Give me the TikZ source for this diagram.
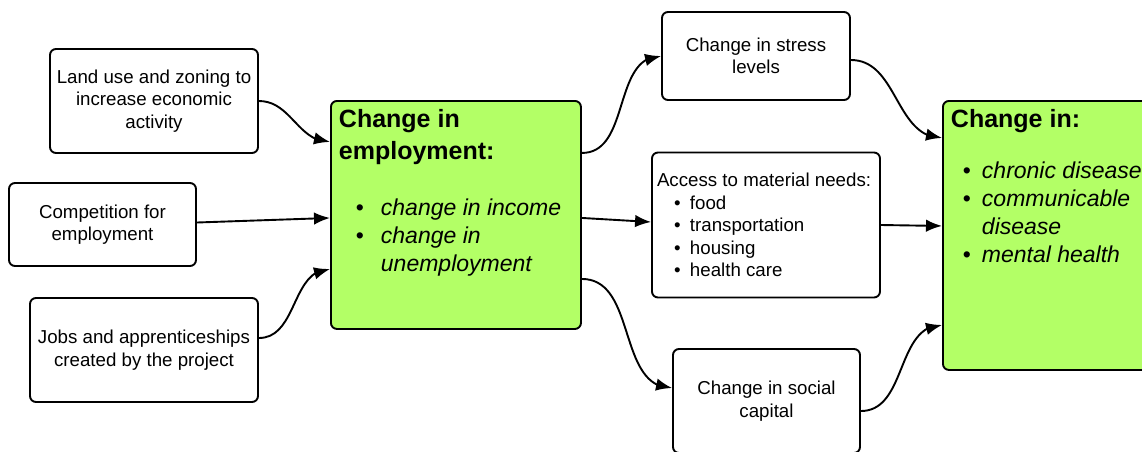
\documentclass[tikz,border=0pt]{standalone}
\usepackage{fontspec}
\setmainfont{Liberation Sans}
\usetikzlibrary{arrows.meta,bending}
\definecolor{limegreen}{RGB}{179,255,102}
\begin{document}
\begin{tikzpicture}[x=1pt,y=-1pt,>={Latex[length=16pt,width=12.5pt,flex]},
	box/.style={draw,line width=1.9pt,rounded corners=6pt,align=center,inner sep=4pt,font=\fontsize{18.7}{22.5}\selectfont},
	greenbox/.style={box,fill=limegreen,inner sep=8pt,anchor=north west,align=left},
	link/.style={->,line width=1.9pt,out=0,in=180}]
	\def\bul{\textup{\textbullet}}
	\useasboundingbox (0,0) rectangle (1142,451);
	% causes
	\node[box,minimum width=208pt,minimum height=104pt] (landuse) at (154,101) {Land use and zoning to\\increase economic\\activity};
	\node[box,minimum width=187pt,minimum height=83pt] (compete) at (102.5,224.5) {Competition for\\employment};
	\node[box,minimum width=228pt,minimum height=104pt] (jobs) at (144,350) {Jobs and apprenticeships\\created by the project};
	% employment
	\node[greenbox] (employ) at (330,100) {\parbox[t][212pt][t]{234pt}{%
		{\fontsize{25}{32}\selectfont\bfseries Change in\\employment:\par}
		\vspace{28pt}
		{\fontsize{23}{28}\selectfont\itshape
		\hspace*{17pt}\makebox[25pt][l]{\bul}change in income\\
		\hspace*{17pt}\makebox[25pt][l]{\bul}change in\\
		\hspace*{42pt}unemployment\par}}};
	% pathways
	\node[box,minimum width=188pt,minimum height=88pt] (stress) at (756,56) {Change in stress\\levels};
	\node[box,minimum width=228pt,minimum height=145pt,inner sep=5pt] (access) at (766,225) {\parbox{218pt}{Access to material needs:\\
		\hspace*{17pt}\makebox[16pt][l]{\bul}food\\
		\hspace*{17pt}\makebox[16pt][l]{\bul}transportation\\
		\hspace*{17pt}\makebox[16pt][l]{\bul}housing\\
		\hspace*{17pt}\makebox[16pt][l]{\bul}health care}};
	\node[box,minimum width=187pt,minimum height=104pt] (social) at (766.5,401) {Change in social\\capital};
	% outcomes
	\node[greenbox] (health) at (942,100) {\parbox[t][253pt][t]{194pt}{%
		{\fontsize{25}{32}\selectfont\bfseries Change in:\par}
		\vspace{23pt}
		{\fontsize{23}{28}\selectfont\itshape
		\hspace*{12pt}\makebox[19pt][l]{\bul}chronic disease\\
		\hspace*{12pt}\makebox[19pt][l]{\bul}communicable\\
		\hspace*{31pt}disease\\
		\hspace*{12pt}\makebox[19pt][l]{\bul}mental health\par}}};
	% arrows
	\draw[link] (landuse.east) to ([yshift=73pt]employ.west);
	\draw[link] ([yshift=2pt]compete.east) -- ([yshift=-3pt]employ.west);
	\draw[link] ([yshift=12pt]jobs.east) to ([yshift=-54pt]employ.west);
	\draw[link] ([yshift=62pt]employ.east) to (stress.west);
	\draw[link] ([yshift=-3pt]employ.east) -- ([yshift=3pt]access.west);
	\draw[link] ([yshift=-64pt]employ.east) to ([yshift=13pt]social.west);
	\draw[link] ([yshift=-4pt]stress.east) to ([yshift=97.5pt]health.west);
	\draw[link] (access.east) -- ([yshift=9.5pt]health.west);
	\draw[link] ([yshift=-10pt]social.east) to ([yshift=-89.5pt]health.west);
\end{tikzpicture}
\end{document}
